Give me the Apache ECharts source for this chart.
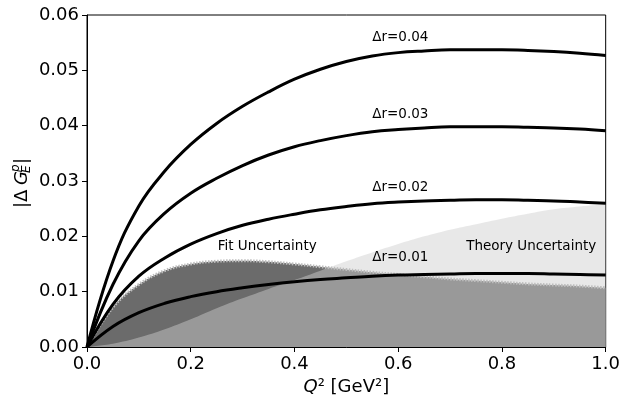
<!DOCTYPE html>
<html>
<head>
<meta charset="utf-8">
<script src="https://cdn.jsdelivr.net/npm/echarts@6/dist/echarts.min.js"></script>
<style>
html, body { margin: 0; padding: 0; background: #fff; }
#chart { width: 623px; height: 403px; }
</style>
</head>
<body>
<div id="chart"></div>
<script>
// Q^2 sample points (GeV^2)
const q2 = [0, 0.05, 0.1, 0.15, 0.2, 0.25, 0.3, 0.35, 0.4, 0.45, 0.5, 0.55, 0.6, 0.65, 0.7, 0.75, 0.8, 0.85, 0.9, 0.95, 1.0]

// |ΔG_E^p| for each Δr
const dr001 = [0, 0.0037, 0.0062, 0.0079, 0.0091, 0.0100, 0.0107, 0.0113, 0.0118, 0.0122, 0.0125, 0.0128, 0.0130, 0.0131, 0.0132, 0.0133, 0.0133, 0.0133, 0.0132, 0.0131, 0.0130]
const dr002 = [0, 0.0077, 0.0128, 0.0161, 0.0186, 0.0205, 0.0220, 0.0231, 0.0240, 0.0248, 0.0254, 0.0259, 0.0262, 0.0264, 0.0265, 0.0266, 0.0266, 0.0265, 0.0264, 0.0262, 0.0260]
const dr003 = [0, 0.0113, 0.0192, 0.0242, 0.0278, 0.0305, 0.0328, 0.0347, 0.0362, 0.0373, 0.0382, 0.0389, 0.0393, 0.0396, 0.0398, 0.0398, 0.0398, 0.0397, 0.0396, 0.0394, 0.0391]
const dr004 = [0, 0.0155, 0.0255, 0.0318, 0.0366, 0.0404, 0.0435, 0.0461, 0.0484, 0.0502, 0.0516, 0.0526, 0.0532, 0.0535, 0.0537, 0.0537, 0.0537, 0.0536, 0.0534, 0.0531, 0.0527]

// uncertainty bands (upper edge, filled down to 0)
const fitUnc = [0, 0.0072, 0.0113, 0.0138, 0.0150, 0.0155, 0.0156, 0.0154, 0.0150, 0.0145, 0.0140, 0.0135, 0.0131, 0.0127, 0.0123, 0.0120, 0.0117, 0.0114, 0.0112, 0.0110, 0.0107]
const theoryUnc = [0, 0.0006, 0.0017, 0.0032, 0.0050, 0.0070, 0.0088, 0.0105, 0.0121, 0.0138, 0.0155, 0.0171, 0.0186, 0.0200, 0.0212, 0.0222, 0.0232, 0.0241, 0.0249, 0.0254, 0.0258]

const curveNames = ['Δr=0.01', 'Δr=0.02', 'Δr=0.03', 'Δr=0.04']
const curves = [dr001, dr002, dr003, dr004]
const xTicks = [0, 0.2, 0.4, 0.6, 0.8, 1.0]
const yTicks = [0, 0.01, 0.02, 0.03, 0.04, 0.05, 0.06]

const FONT = 'DejaVu Sans'
const pairs = ys => q2.map((x, i) => [x, ys[i]])

const chart = echarts.init(document.getElementById('chart'))

const bandSeries = (name, ys, color, z) => ({
  name,
  type: 'line',
  data: pairs(ys),
  smooth: 0.4,
  showSymbol: false,
  silent: true,
  z,
  lineStyle: { width: 0 },
  areaStyle: { color, opacity: 1 }
})

const option = {
  animation: false,
  grid: {
    left: 87, right: 16, top: 15, bottom: 56,
    show: true, borderColor: '#000', borderWidth: 1
  },
  xAxis: {
    type: 'value',
    min: xTicks[0], max: xTicks[xTicks.length - 1], interval: 0.2,
    name: '{i|Q}² [GeV²]',
    nameLocation: 'middle',
    nameGap: 26,
    nameTextStyle: {
      fontFamily: FONT, fontSize: 18, color: '#000',
      rich: { i: { fontFamily: FONT, fontSize: 18, fontStyle: 'italic', color: '#000' } }
    },
    axisLine: { lineStyle: { color: '#000', width: 1 } },
    axisTick: { length: 5, lineStyle: { color: '#000' } },
    axisLabel: { fontFamily: FONT, fontSize: 18, color: '#000', margin: 8, formatter: v => v.toFixed(1) },
    splitLine: { show: false }
  },
  yAxis: {
    type: 'value',
    min: yTicks[0], max: yTicks[yTicks.length - 1], interval: 0.01,
    axisLine: { show: true, lineStyle: { color: '#000', width: 1 } },
    axisTick: { show: true, length: 5, lineStyle: { color: '#000' } },
    axisLabel: { fontFamily: FONT, fontSize: 18, color: '#000', margin: 8, formatter: v => v.toFixed(2) },
    splitLine: { show: false }
  },
  series: [
    bandSeries('Fit Uncertainty', fitUnc, '#6b6b6b', 1),
    bandSeries('Theory Uncertainty', theoryUnc, 'rgba(206,206,206,0.47)', 2),
    {
      name: 'fit edge',
      type: 'line',
      data: pairs(fitUnc),
      smooth: 0.4,
      showSymbol: false,
      silent: true,
      z: 3,
      lineStyle: { color: '#bdbdbd', width: 3, type: [1.5, 1.5] }
    },
    ...curves.map((ys, k) => ({
      name: curveNames[k],
      type: 'line',
      data: pairs(ys),
      smooth: 0.4,
      showSymbol: false,
      z: 5,
      lineStyle: { color: '#000', width: 3 }
    }))
  ]
}

chart.setOption(option)

// annotations placed in data coordinates
const labelAt = (text, x, y) => {
  const p = chart.convertToPixel({ gridIndex: 0 }, [x, y])
  return {
    type: 'text', x: p[0], y: p[1], z: 10,
    style: { text, fontFamily: FONT, fontSize: 13.5, fill: '#000', textAlign: 'left', textVerticalAlign: 'middle' }
  }
}

const yLabelFont = 18
chart.setOption({
  graphic: [
    labelAt(curveNames[3], 0.55, 0.0560),
    labelAt(curveNames[2], 0.55, 0.0421),
    labelAt(curveNames[1], 0.55, 0.0289),
    labelAt(curveNames[0], 0.55, 0.0161),
    labelAt('Fit Uncertainty', 0.252, 0.0181),
    labelAt('Theory Uncertainty', 0.731, 0.0181),
    {
      type: 'group',
      x: 22, y: 181,
      rotation: Math.PI / 2,
      children: [
        { type: 'text', x: -27, y: 0, style: { text: '|Δ', fontFamily: FONT, fontSize: yLabelFont, fill: '#000', textVerticalAlign: 'middle' } },
        { type: 'text', x: -4, y: 0, style: { text: 'G', fontFamily: FONT, fontSize: yLabelFont, fontStyle: 'italic', fill: '#000', textVerticalAlign: 'middle' } },
        { type: 'text', x: 9, y: -6, style: { text: 'p', fontFamily: FONT, fontSize: 12, fontStyle: 'italic', fill: '#000', textVerticalAlign: 'middle' } },
        { type: 'text', x: 8, y: 5, style: { text: 'E', fontFamily: FONT, fontSize: 12, fontStyle: 'italic', fill: '#000', textVerticalAlign: 'middle' } },
        { type: 'text', x: 17, y: 0, style: { text: '|', fontFamily: FONT, fontSize: yLabelFont, fill: '#000', textVerticalAlign: 'middle' } }
      ]
    }
  ]
})

window.addEventListener('resize', () => chart.resize())
</script>
</body>
</html>
